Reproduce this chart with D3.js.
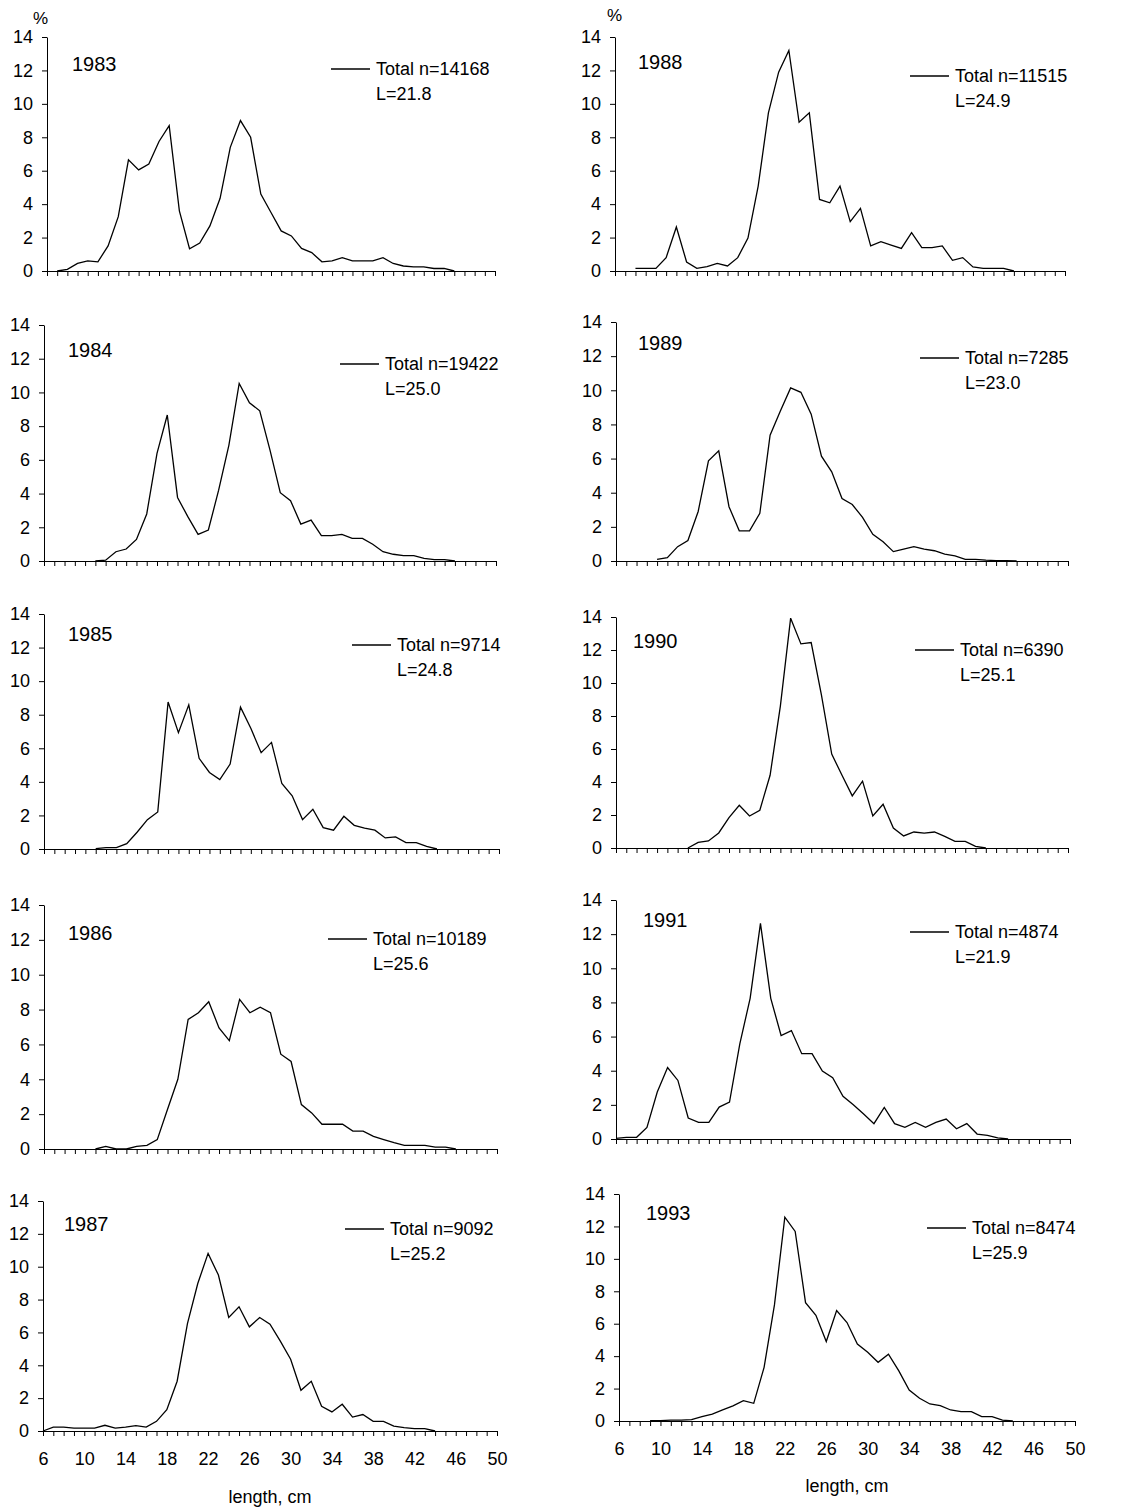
<!DOCTYPE html>
<html>
<head>
<meta charset="utf-8">
<script src="https://cdn.jsdelivr.net/npm/d3@7"></script>
<style>
  body { margin: 0; background: #fff; }
  svg text { font-family: "Liberation Sans", Arial, sans-serif; fill: #000; }
</style>
</head>
<body>
<div id="chart"></div>
<script>
// data: % of catch by length class (cm)

let years = ['1983', '1984', '1985', '1986', '1987', '1988', '1989', '1990', '1991', '1993']
let totals = ['14168', '19422', '9714', '10189', '9092', '11515', '7285', '6390', '4874', '8474']
let meanLengths = ['21.8', '25.0', '24.8', '25.6', '25.2', '24.9', '23.0', '25.1', '21.9', '25.9']
// length class of the first value in each series
let firstCm = [7, 11, 11, 11, 6, 8, 10, 13, 6, 9]

let pct1983 = [0, 0.1, 0.45, 0.6, 0.55, 1.5, 3.25, 6.65, 6.05, 6.4, 7.75, 8.7, 3.6, 1.33, 1.67, 2.7, 4.35, 7.4, 9.0, 8.0,
  4.6, 3.5, 2.4, 2.1, 1.35, 1.1, 0.55, 0.6, 0.8, 0.6, 0.6, 0.6, 0.8, 0.45, 0.3, 0.25, 0.25, 0.15, 0.15, 0]
let pct1984 = [0, 0.05, 0.55, 0.71, 1.28, 2.79, 6.38, 8.66, 3.77, 2.63, 1.58, 1.84, 4.2, 6.88, 10.53, 9.39, 8.91, 6.58,
  4.05, 3.58, 2.19, 2.43, 1.5, 1.5, 1.58, 1.34, 1.34, 0.99, 0.55, 0.4, 0.32, 0.32, 0.16, 0.08, 0.08, 0]
let pct1985 = [0.02, 0.08, 0.08, 0.32, 1.0, 1.75, 2.21, 8.76, 6.93, 8.59, 5.4, 4.56, 4.14, 5.06, 8.45, 7.19, 5.74, 6.35,
  3.9, 3.17, 1.75, 2.37, 1.27, 1.12, 1.95, 1.41, 1.25, 1.12, 0.66, 0.72, 0.38, 0.38, 0.16, 0]
let pct1986 = [0, 0.15, 0, 0, 0.15, 0.21, 0.54, 2.28, 4.0, 7.43, 7.82, 8.45, 6.95, 6.22, 8.58, 7.82, 8.14, 7.82, 5.44,
  5.02, 2.55, 2.07, 1.42, 1.42, 1.42, 1.03, 1.03, 0.73, 0.54, 0.36, 0.21, 0.21, 0.21, 0.11, 0.11, 0]
let pct1987 = [0, 0.24, 0.24, 0.18, 0.18, 0.18, 0.35, 0.18, 0.24, 0.33, 0.24, 0.59, 1.3, 3.03, 6.54, 8.98, 10.81, 9.49,
  6.91, 7.56, 6.34, 6.91, 6.5, 5.47, 4.37, 2.48, 3.03, 1.5, 1.16, 1.63, 0.85, 1.0, 0.59, 0.59, 0.3, 0.2, 0.14, 0.14, 0]
let pct1988 = [0.16, 0.16, 0.16, 0.8, 2.63, 0.54, 0.16, 0.26, 0.46, 0.3, 0.8, 1.97, 5.08, 9.46, 11.9, 13.2, 8.9, 9.46,
  4.28, 4.08, 5.08, 2.95, 3.75, 1.5, 1.75, 1.55, 1.35, 2.3, 1.4, 1.4, 1.5, 0.64, 0.8, 0.24, 0.16, 0.16, 0.16, 0]
let pct1989 = [0.1, 0.2, 0.84, 1.2, 2.9, 5.87, 6.45, 3.18, 1.77, 1.77, 2.79, 7.37, 8.79, 10.14, 9.88, 8.6, 6.14, 5.22,
  3.66, 3.31, 2.55, 1.56, 1.13, 0.55, 0.7, 0.84, 0.7, 0.6, 0.4, 0.3, 0.1, 0.1, 0.05, 0.02, 0.02, 0]
let pct1990 = [0, 0.34, 0.43, 0.91, 1.84, 2.59, 1.94, 2.29, 4.41, 8.6, 13.93, 12.37, 12.45, 9.27, 5.69, 4.41, 3.16, 4.05,
  1.94, 2.65, 1.21, 0.73, 0.97, 0.9, 0.97, 0.7, 0.4, 0.4, 0.1, 0]
let pct1991 = [0.04, 0.1, 0.1, 0.68, 2.75, 4.19, 3.43, 1.23, 0.97, 0.97, 1.87, 2.16, 5.57, 8.24, 12.63, 8.24, 6.06, 6.35,
  5.0, 5.0, 3.98, 3.59, 2.5, 2.01, 1.46, 0.9, 1.85, 0.9, 0.68, 0.97, 0.68, 0.97, 1.17, 0.6, 0.9, 0.29, 0.21, 0.06, 0]
let pct1993 = [0.02, 0.02, 0.06, 0.06, 0.08, 0.27, 0.43, 0.68, 0.93, 1.26, 1.09, 3.31, 7.16, 12.57, 11.69, 7.3, 6.52, 4.9,
  6.81, 6.07, 4.75, 4.24, 3.62, 4.12, 3.09, 1.91, 1.4, 1.05, 0.95, 0.68, 0.58, 0.58, 0.27, 0.27, 0.06, 0]

let series = [pct1983, pct1984, pct1985, pct1986, pct1987, pct1988, pct1989, pct1990, pct1991, pct1993]

let yTicks = [0, 2, 4, 6, 8, 10, 12, 14]
let xMinorTicks = d3.range(6, 51)
let xLabelTicks = [6, 10, 14, 18, 22, 26, 30, 34, 38, 42, 46, 50]

// layout of each small chart (same order as years)
let panels = [
  { left: 47, right: 495, top: 37, bottom: 271, yearX: 72, yearY: 71, legX: 331, legY: 69 },
  { left: 44, right: 496, top: 325, bottom: 561, yearX: 68, yearY: 357, legX: 340, legY: 364 },
  { left: 44, right: 499, top: 614, bottom: 849, yearX: 68, yearY: 641, legX: 352, legY: 645 },
  { left: 44, right: 497, top: 905, bottom: 1149, yearX: 68, yearY: 940, legX: 328, legY: 939 },
  { left: 43, right: 497, top: 1201, bottom: 1431, yearX: 64, yearY: 1231, legX: 345, legY: 1229 },
  { left: 615, right: 1065, top: 37, bottom: 271, yearX: 638, yearY: 69, legX: 910, legY: 76 },
  { left: 616, right: 1068, top: 322, bottom: 561, yearX: 638, yearY: 350, legX: 920, legY: 358 },
  { left: 616, right: 1068, top: 617, bottom: 848, yearX: 633, yearY: 648, legX: 915, legY: 650 },
  { left: 616, right: 1070, top: 900, bottom: 1139, yearX: 643, yearY: 927, legX: 910, legY: 932 },
  { left: 619, right: 1075, top: 1194, bottom: 1421, yearX: 646, yearY: 1220, legX: 927, legY: 1228 }
]

let width = 1135
let height = 1508

let svg = d3
  .select('#chart')
  .append('svg')
  .attr('width', width)
  .attr('height', height)

svg
  .append('rect')
  .attr('width', width)
  .attr('height', height)
  .attr('fill', '#fff')

panels.forEach((p, i) => {
  let x = d3.scaleLinear().domain([6, 50]).range([p.left, p.right])
  let y = d3.scaleLinear().domain([0, 14]).range([p.bottom, p.top])
  let isBottom = i === 4 || i === 9

  let g = svg.append('g').attr('class', 'panel')

  // y axis
  let yAxis = g
    .append('g')
    .attr('transform', `translate(${p.left},0)`)
    .call(
      d3
        .axisLeft(y)
        .tickValues(yTicks)
        .tickSize(5)
        .tickSizeOuter(0)
        .tickPadding(9)
    )
  yAxis.attr('font-size', 18).attr('font-family', null)

  // x axis, a tick at every cm
  g.append('g')
    .attr('transform', `translate(0,${p.bottom})`)
    .call(
      d3
        .axisBottom(x)
        .tickValues(xMinorTicks)
        .tickSize(5)
        .tickSizeOuter(0)
        .tickFormat('')
    )

  if (isBottom) {
    let labels = g
      .append('g')
      .attr('transform', `translate(0,${p.bottom})`)
      .call(
        d3
          .axisBottom(x)
          .tickValues(xLabelTicks)
          .tickSize(0)
          .tickPadding(21)
      )
    labels.attr('font-size', 18).attr('font-family', null)
    labels.select('.domain').remove()

    g.append('text')
      .attr('x', (p.left + p.right) / 2)
      .attr('y', i === 4 ? 1503 : 1492)
      .attr('text-anchor', 'middle')
      .attr('font-size', 18)
      .text('length, cm')
  }

  g.selectAll('.domain, .tick line').attr('stroke', '#000')

  // the distribution
  let start = firstCm[i]
  let line = d3
    .line()
    .x((d, j) => x(start + j))
    .y(d => y(d))

  g.append('path')
    .datum(series[i])
    .attr('d', line)
    .attr('fill', 'none')
    .attr('stroke', '#000')
    .attr('stroke-width', 1.3)

  // year
  g.append('text')
    .attr('x', p.yearX)
    .attr('y', p.yearY)
    .attr('font-size', 20)
    .text(years[i])

  // legend
  g.append('line')
    .attr('x1', p.legX)
    .attr('x2', p.legX + 39)
    .attr('y1', p.legY)
    .attr('y2', p.legY)
    .attr('stroke', '#000')
    .attr('stroke-width', 1.3)

  g.append('text')
    .attr('x', p.legX + 45)
    .attr('y', p.legY + 6)
    .attr('font-size', 18)
    .text('Total n=' + totals[i])

  g.append('text')
    .attr('x', p.legX + 45)
    .attr('y', p.legY + 31)
    .attr('font-size', 18)
    .text('L=' + meanLengths[i])
})

// % marks above the top charts
svg.append('text').attr('x', 33).attr('y', 24).attr('font-size', 17).text('%')
svg.append('text').attr('x', 607).attr('y', 21).attr('font-size', 17).text('%')
</script>
</body>
</html>
